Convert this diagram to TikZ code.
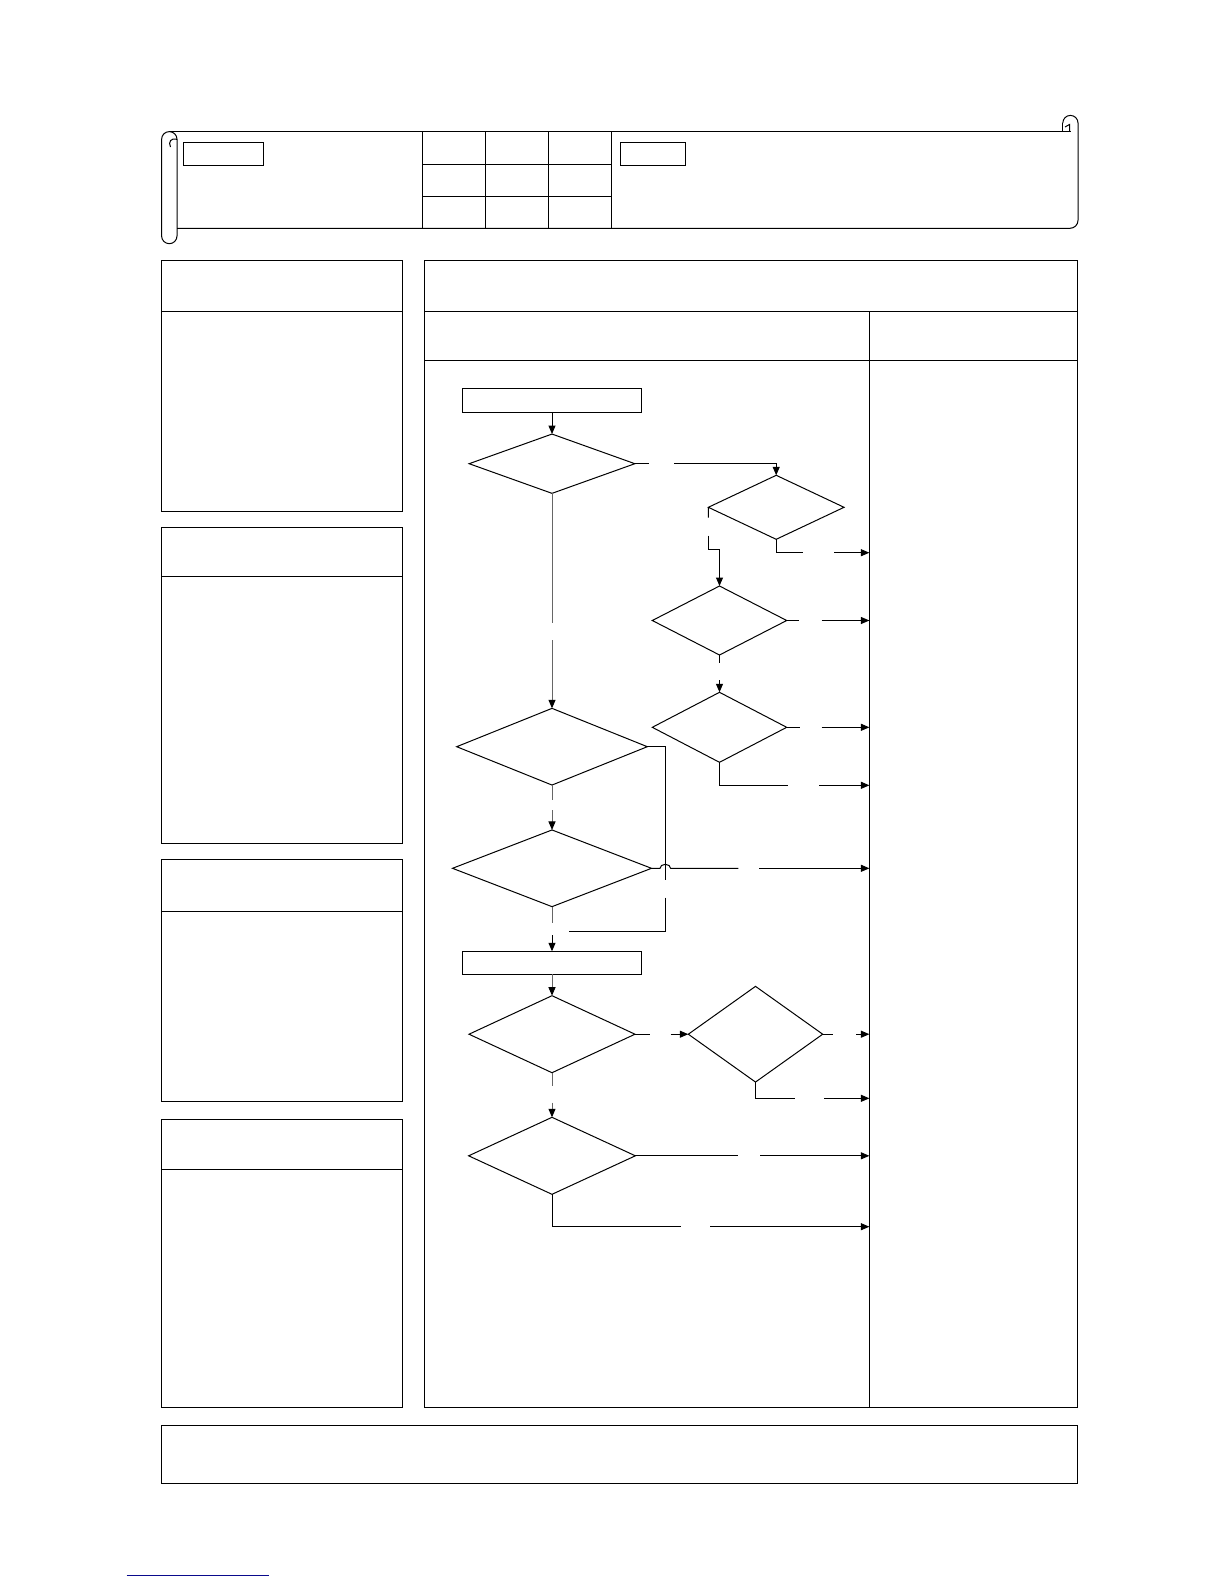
\documentclass[tikz,border=0pt]{standalone}
\usetikzlibrary{shapes.geometric,arrows.meta}
\definecolor{linkblue}{RGB}{10,10,140}
\begin{document}
\begin{tikzpicture}[x=1pt,y=-1pt,
  ln/.style={line width=1pt,black},
  spine/.style={line width=1pt,black!60},
  arr/.style={line width=1pt,black,-{Triangle[length=8.5pt,width=7pt]}},
  sarr/.style={line width=1pt,black!60,-{Triangle[length=8.5pt,width=7pt,fill=black,color=black]}},
  frame/.style={line width=1pt,black},
  dia/.style 2 args={diamond,draw,line width=1pt,inner sep=0pt,outer sep=0pt,minimum width=#1,minimum height=#2},
  box/.style 2 args={rectangle,draw,line width=1pt,inner sep=0pt,outer sep=0pt,minimum width=#1,minimum height=#2}]
\useasboundingbox (0,0) rectangle (1224,1584);

% ---------- header scroll ----------
% left roll
\draw[frame] (177,139.3) arc[start angle=0,end angle=-180,radius=7.7] -- (161.6,236)
  arc[start angle=180,end angle=0,radius=7.7] -- cycle;
\draw[frame] (170.5,147) .. controls (168,142) and (171,137.5) .. (177,139.3);
% top and bottom lines
\draw[frame] (169.3,131.3) -- (1070.5,131.3);
\draw[frame] (177,228.3) -- (1070,228.3) arc[start angle=90,end angle=0,radius=8] -- (1078,123);
% right curl
\draw[frame] (1078,123) arc[start angle=0,end angle=-180,radius=7.6];
\draw[frame] (1062.8,123) -- (1062.8,131.3);
\draw[frame] (1065,127) -- (1069.5,124.5) -- (1069.5,131.3);
% inner rectangles
\node[box={80}{23}] (hl) at (223.3,153.8) {};
\node[box={64.7}{23}] (hr) at (653.3,153.8) {};
% table grid
\foreach \xx in {422.3,485.3,548.3,611.3} \draw[frame] (\xx,131.3) -- (\xx,228.3);
\draw[frame] (422.3,164.3) -- (611.3,164.3);
\draw[frame] (422.3,196) -- (611.3,196);

% ---------- left column ----------
\draw[frame] (161.6,260.5) rectangle (402,511);
\draw[frame] (161.6,311) -- (402,311);
\draw[frame] (161.6,527) rectangle (402,843.3);
\draw[frame] (161.6,576.7) -- (402,576.7);
\draw[frame] (161.6,859.4) rectangle (402,1101.8);
\draw[frame] (161.6,911) -- (402,911);
\draw[frame] (161.6,1119) rectangle (402,1407.8);
\draw[frame] (161.6,1169.5) -- (402,1169.5);

% ---------- main panel ----------
\draw[frame] (424.2,260.5) rectangle (1077.6,1407.8);
\draw[frame] (424.2,311) -- (1077.6,311);
\draw[frame] (424.2,360.5) -- (1077.6,360.5);
\draw[frame] (869.4,311) -- (869.4,1407.8);

% bottom box
\draw[frame] (161.6,1425) rectangle (1077.6,1483.6);

% blue line
\draw[linkblue,line width=1pt] (126.7,1575) -- (269,1575);

% ---------- flowchart ----------
\node[box={179.4}{24.4}] (r1) at (552,400.5) {};
\node[dia={165.7}{59.3}] (d1) at (552,463.7) {};
\node[dia={135.7}{64}] (d2) at (776.2,507.3) {};
\node[dia={134.4}{69}] (d3) at (719.5,620.5) {};
\node[dia={134.4}{70}] (d4) at (719.5,727.3) {};
\node[dia={190.6}{76.7}] (d5) at (552,746.7) {};
\node[dia={199}{76.7}] (d6) at (552,868.3) {};
\node[box={179.4}{23}] (r2) at (552,962.8) {};
\node[dia={166}{77}] (d7) at (552,1034.2) {};
\node[dia={134.4}{95.7}] (d8) at (755.5,1034.2) {};
\node[dia={166.7}{77}] (d9) at (552,1155.8) {};

\draw[arr] (r1.south) -- (d1.north);
\draw[ln] (d1.east) -- (649,463.7);
\draw[arr] (674,463.7) -| (d2.north);
\draw[ln] (d2.south) |- (802.7,552.7);
\draw[arr] (834,552.7) -- (869.4,552.7);
\draw[ln] (d2.west) -- (708.3,517.7);
\draw[arr] (708.3,535.7) -- (708.3,549.3) -| (d3.north);
\draw[ln] (d3.east) -- (799.3,620.5);
\draw[arr] (821.7,620.5) -- (869.4,620.5);
\draw[ln] (d3.south) -- (719.5,662.7);
\draw[arr] (719.5,680) -- (d4.north);
\draw[ln] (d4.east) -- (800,727.3);
\draw[arr] (821.7,727.3) -- (869.4,727.3);
\draw[ln] (d4.south) |- (787.7,785.3);
\draw[arr] (819,785.3) -- (869.4,785.3);

\draw[spine] (d1.south) -- (552,622.7);
\draw[sarr] (552,640) -- (d5.north);
\draw[ln] (d5.east) -| (665.3,880);
\draw[ln] (665.3,897.7) |- (569,931);
\draw[ln] (d6.east) -- (660,868.3) arc[start angle=180,end angle=360,x radius=5.3,y radius=4] -- (738.3,868.3);
\draw[arr] (759,868.3) -- (869.4,868.3);
\draw[spine] (d5.south) -- (552,800);
\draw[sarr] (552,810) -- (d6.north);
\draw[spine] (d6.south) -- (552,922.7);
\draw[arr] (552,935) -- (r2.north);

\draw[sarr] (r2.south) -- (d7.north);
\draw[ln] (d7.east) -- (650,1034.2);
\draw[arr] (670.7,1034.2) -- (d8.west);
\draw[ln] (d8.east) -- (832.7,1034.2);
\draw[arr] (856,1034.2) -- (869.4,1034.2);
\draw[ln] (d8.south) |- (795,1098.3);
\draw[arr] (824,1098.3) -- (869.4,1098.3);
\draw[spine] (d7.south) -- (552,1085.7);
\draw[sarr] (552,1102.7) -- (d9.north);
\draw[ln] (d9.east) -- (738.3,1155.8);
\draw[arr] (760,1155.8) -- (869.4,1155.8);
\draw[ln] (d9.south) |- (681,1226.7);
\draw[arr] (710,1226.7) -- (869.4,1226.7);
\end{tikzpicture}
\end{document}
